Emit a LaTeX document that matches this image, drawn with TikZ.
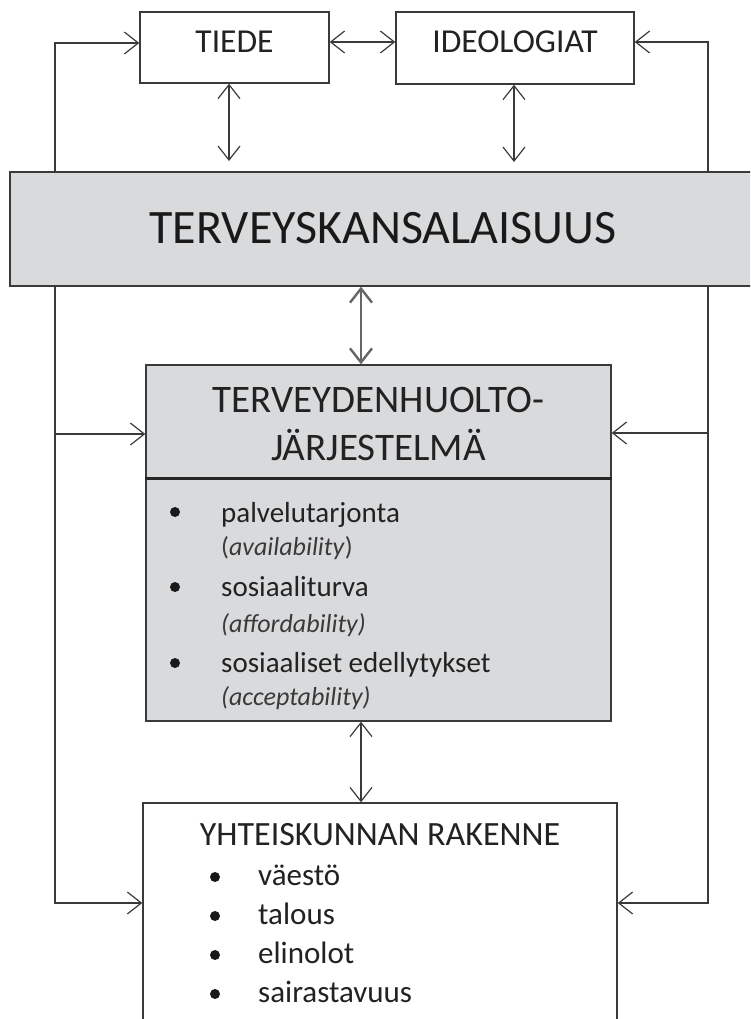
\documentclass[tikz,border=0pt]{standalone}
\usepackage{fontspec}
\setmainfont{Carlito}
\usetikzlibrary{arrows.meta}
\definecolor{bandgray}{HTML}{D9DADC}
\definecolor{linec}{HTML}{3A3A3A}
\definecolor{txt}{HTML}{222222}
\definecolor{itxt}{HTML}{3A3A3A}
\begin{document}
\begin{tikzpicture}[x=1pt,y=-1pt,
  box/.style={draw=linec, line width=1.4pt, inner sep=0pt},
  conn/.style={draw=linec, line width=1.2pt},
  tip/.tip={Straight Barb[length=14pt,width=22pt]},
  arr/.style={conn, -tip},
  darr/.style={conn, tip-tip},
  lab/.style={text=txt, inner sep=0pt, anchor=base},
  toplab/.style={lab, font=\fontsize{33.5}{40}\selectfont},
  headlab/.style={lab, font=\fontsize{39}{46}\selectfont},
  itemlab/.style={lab, anchor=base west, font=\fontsize{29}{36}\selectfont},
  itlab/.style={lab, anchor=base west, text=itxt, font=\fontsize{26}{32}\selectfont},
  botlab/.style={lab, anchor=base west, font=\fontsize{31}{36}\selectfont},
  dot/.style={circle, fill=black!90, inner sep=0pt, minimum size=10pt},
]
\useasboundingbox (0,0) rectangle (750,1019);
\clip (0,0) rectangle (750,1019);

% top boxes
\node[box, fill=white, minimum width=189pt, minimum height=71pt] (tiede) at (234.5,47.5) {};
\node[box, fill=white, minimum width=238pt, minimum height=72pt] (ideo) at (515,48) {};
\node[toplab] (tiedet) at (234.5,53) {TIEDE};
\node[toplab] (ideot) at (515,53) {IDEOLOGIAT};

% band
\node[box, fill=bandgray, minimum width=760pt, minimum height=114pt] (band) at (390,229) {};
\node[lab, text=black!90, font=\fontsize{48}{54}\selectfont] (bandt) at (383,243) {TERVEYSKANSALAISUUS};

% middle box
\node[box, fill=bandgray, minimum width=465pt, minimum height=113pt] (midh) at (378.5,421.5) {};
\node[box, fill=bandgray, minimum width=465pt, minimum height=243pt] (midb) at (378.5,599.5) {};
\draw[line width=3pt, black!85] (midh.south west) -- (midh.south east);
\node[headlab] (mh1) at (378.5,412) {TERVEYDENHUOLTO-};
\node[headlab] (mh2) at (378.5,460) {JÄRJESTELMÄ};
\node[dot] (b1) at (175,512) {};
\node[itemlab] (i1) at (221,522) {palvelutarjonta};
\node[itlab] (i1e) at (221,555) {(\textit{availability})};
\node[dot] (b2) at (175,587) {};
\node[itemlab] (i2) at (221,596) {sosiaaliturva};
\node[itlab] (i2e) at (221,632) {\textit{(affordability)}};
\node[dot] (b3) at (175,663) {};
\node[itemlab] (i3) at (221,672) {sosiaaliset edellytykset};
\node[itlab] (i3e) at (221,705) {\textit{(acceptability)}};

% bottom box
\node[box, fill=white, minimum width=474pt, minimum height=240pt] (bot) at (380,923) {};
\node[lab, font=\fontsize{34}{40}\selectfont] (bh) at (380,845) {YHTEISKUNNAN RAKENNE};
\node[dot] (c1) at (215,877) {};
\node[botlab] (j1) at (258,885) {väestö};
\node[dot] (c2) at (215,916) {};
\node[botlab] (j2) at (258,924) {talous};
\node[dot] (c3) at (215,955) {};
\node[botlab] (j3) at (258,963) {elinolot};
\node[dot] (c4) at (215,994) {};
\node[botlab] (j4) at (258,1002) {sairastavuus};

% connectors
\coordinate (lx) at (55,0);
\coordinate (rx) at (708,0);
\coordinate (cx) at (361,0);
\coordinate (t1) at (229,161);
\coordinate (d1) at (514,162);
\coordinate (lm) at (55,434);
\coordinate (rm) at (708,433);
\coordinate (lb) at (55,903);
\coordinate (rb) at (708,903);

\draw[arr] (band.north -| lx) |- ([yshift=4.5pt]tiede.west);
\draw[arr] (band.north -| rx) |- ([yshift=6pt]ideo.east);
\draw[darr] ([yshift=5.5pt]tiede.east) -- ([yshift=5.5pt]tiede.east -| ideo.west);
\draw[darr] (tiede.south -| t1) -- (t1);
\draw[darr] (ideo.south -| d1) -- (d1);
\draw[darr, draw=black!60, line width=2.4pt] (band.south -| cx) -- (midh.north -| cx);
\draw[darr] (midb.south -| cx) -- (bot.north -| cx);
\draw[arr] (band.south -| lx) -- (lb) -- (lb -| bot.west);
\draw[arr] (lm) -- (lm -| midh.west);
\draw[arr] (band.south -| rx) -- (rb) -- (rb -| bot.east);
\draw[arr] (rm) -- (rm -| midh.east);
\end{tikzpicture}
\end{document}
